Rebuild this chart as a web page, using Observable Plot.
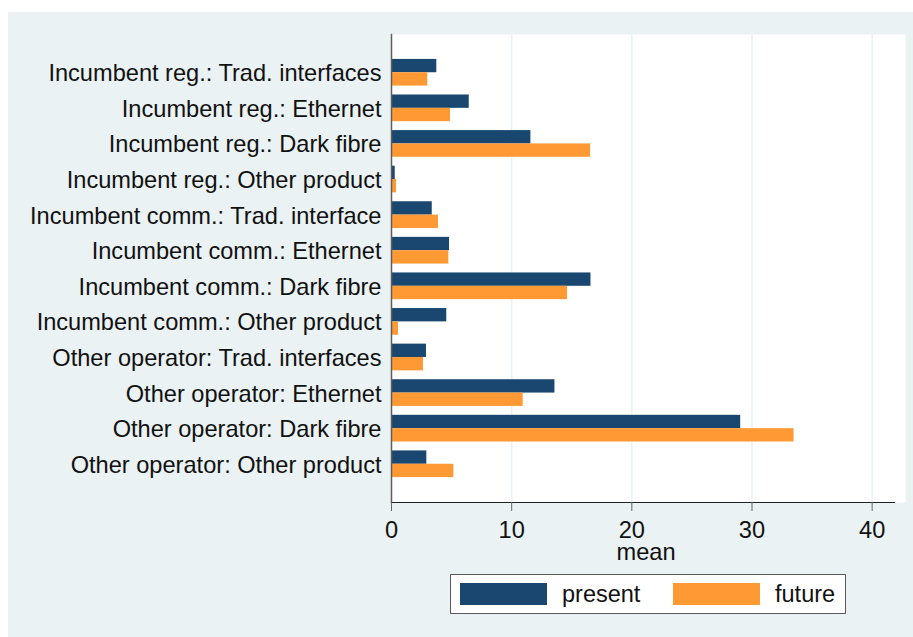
<!DOCTYPE html>
<html>
<head>
<meta charset="utf-8">
<script src="https://cdn.jsdelivr.net/npm/d3@7"></script>
<script src="https://cdn.jsdelivr.net/npm/@observablehq/plot@0.6"></script>
<style>
  html, body { margin: 0; padding: 0; background: #ffffff; }
  body { width: 913px; height: 637px; position: relative; overflow: hidden; font-family: "Liberation Sans", Arial, sans-serif; }
  #panel { position: absolute; left: 8px; top: 12px; width: 905px; height: 625px; background: #eaf2f3; }
  #chart { position: absolute; left: 0; top: 0; }
  #legend { position: absolute; left: 450px; top: 574px; width: 396px; height: 40px; box-sizing: border-box; border: 1px solid #5a5a5a; background: #ffffff; }
  .sw { position: absolute; width: 87px; height: 22px; top: 583px; }
  .lt { position: absolute; top: 583px; font-size: 23.5px; line-height: 23px; color: #111; white-space: nowrap; }
</style>
</head>
<body>
<div id="panel"></div>
<div id="chart"></div>
<div id="legend"></div>
<script>
const categories = [
  "Incumbent reg.: Trad. interfaces",
  "Incumbent reg.: Ethernet",
  "Incumbent reg.: Dark fibre",
  "Incumbent reg.: Other product",
  "Incumbent comm.: Trad. interface",
  "Incumbent comm.: Ethernet",
  "Incumbent comm.: Dark fibre",
  "Incumbent comm.: Other product",
  "Other operator: Trad. interfaces",
  "Other operator: Ethernet",
  "Other operator: Dark fibre",
  "Other operator: Other product"
];
const present = [3.77, 6.47, 11.6, 0.31, 3.39, 4.83, 16.6, 4.6, 2.91, 13.6, 29.06, 2.94];
const future  = [3.02, 4.91, 16.57, 0.42, 3.91, 4.77, 14.65, 0.58, 2.66, 10.96, 33.5, 5.19];
const xTicks = [0, 10, 20, 30, 40];
const seriesNames = ["present", "future"];
const colors = ["#1a476f", "#ff9933"];

const rowsPresent = categories.map((c, i) => ({category: c, value: present[i]}));
const rowsFuture = categories.map((c, i) => ({category: c, value: future[i]}));

const W = 913, H = 637;
const bw = 26.7; // approx band width for inset split
const FS = 23.6;
const chart = Plot.plot({
  width: W,
  height: H,
  marginLeft: 391,
  marginRight: 19,
  marginTop: 34,
  marginBottom: 135,
  style: {background: "transparent", fontFamily: "'Liberation Sans', Arial, sans-serif", fontSize: FS + "px", color: "#111"},
  x: {domain: [0, 41.86]},
  y: {domain: categories, padding: 0.25, insetTop: 16, insetBottom: 16, round: false},
  marks: [
    Plot.frame({fill: "white", stroke: null, insetRight: -11}),
    Plot.gridX(xTicks.filter(d => d > 0), {stroke: "#eaf2f3", strokeOpacity: 1, strokeWidth: 1.6}),
    Plot.barX(rowsPresent, {x: "value", y: "category", fill: colors[0], insetBottom: bw / 2}),
    Plot.barX(rowsFuture, {x: "value", y: "category", fill: colors[1], insetTop: bw / 2}),
    Plot.frame({anchor: "left", stroke: "#5f5f5f", strokeWidth: 1.5}),
    Plot.frame({anchor: "bottom", stroke: "#222", strokeWidth: 1.2}),
    Plot.axisY({tickSize: 0, tickPadding: 10, fontSize: FS, dy: 1, fill: "#111", label: null}),
    Plot.axisX({ticks: xTicks, tickSize: 9, tickPadding: 10, fontSize: FS, stroke: "#666", fill: "#111", label: null}),
    Plot.text(["mean"], {frameAnchor: "bottom", lineAnchor: "middle", text: d => d, dy: 50, dx: 3, fontSize: FS, fill: "#111"})
  ]
});
document.getElementById("chart").appendChild(chart);

// legend
const leg = [
  {name: seriesNames[0], color: colors[0], sx: 460, tx: 562},
  {name: seriesNames[1], color: colors[1], sx: 673, tx: 775}
];
for (const l of leg) {
  const s = document.createElement("div");
  s.className = "sw";
  s.style.left = l.sx + "px";
  s.style.background = l.color;
  document.body.appendChild(s);
  const t = document.createElement("div");
  t.className = "lt";
  t.style.left = l.tx + "px";
  t.textContent = l.name;
  document.body.appendChild(t);
}
</script>
</body>
</html>
